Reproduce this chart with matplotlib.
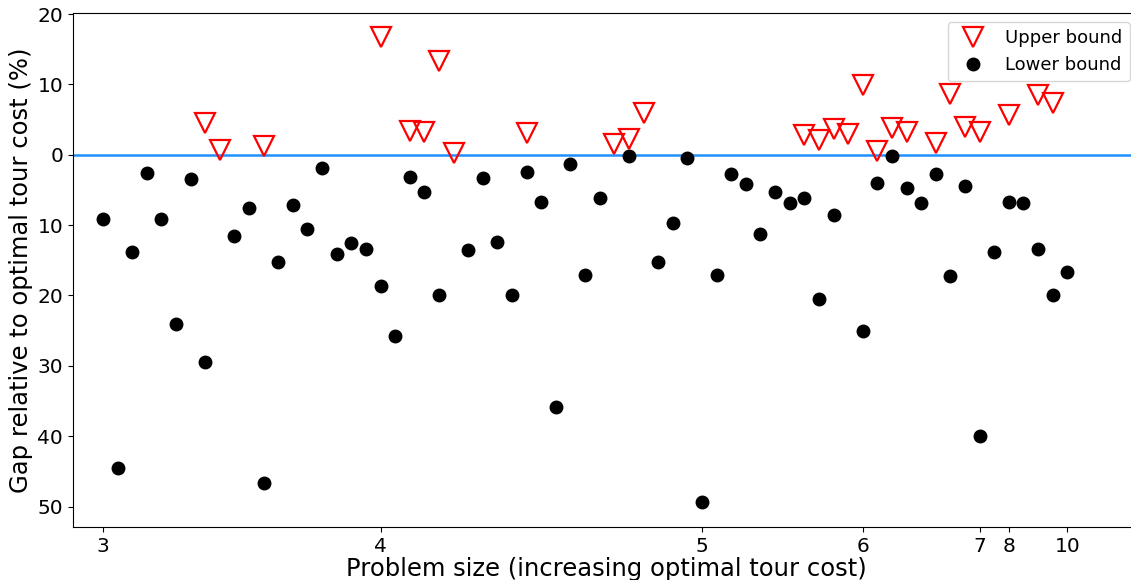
import numpy as np
import matplotlib
matplotlib.use("Agg")
import matplotlib.pyplot as plt

# =========================================================
# DATA (gap in %, instances sorted by optimal tour cost)
# =========================================================

nan = np.nan

lower_bound = [
    -9.1, -44.5, -13.8, -2.6, -9.1, -24.1, -3.5, -29.5, nan, -11.5,
    -7.5, -46.6, -15.2, -7.2, -10.5, -1.9, -14.1, -12.6, -13.4, -18.7,
    -25.7, -3.1, -5.35, -19.9, nan, -13.5, -3.3, -12.4, -19.9, -2.4,
    -6.7, -35.9, -1.3, -17.1, -6.1, nan, -0.2, nan, -15.3, -9.7,
    -0.5, -49.4, -17.1, -2.8, -4.1, -11.2, -5.35, -6.8, -6.2, -20.5,
    -8.6, nan, -25.0, -4.0, -0.2, -4.7, -6.9, -2.8, -17.3, -4.4,
    -40.0, -13.8, -6.7, -6.8, -13.4, -19.9, -16.7,
]

upper_bound = [
    nan, nan, nan, nan, nan, nan, nan, 4.5, 0.7, nan,
    nan, 1.2, nan, nan, nan, nan, nan, nan, nan, 16.8,
    nan, 3.4, 3.2, 13.3, 0.3, nan, nan, nan, nan, 3.15,
    nan, nan, nan, nan, nan, 1.5, 2.25, 6.0, nan, nan,
    nan, nan, nan, nan, nan, nan, nan, nan, 2.85, 2.1,
    3.7, 2.9, 9.9, 0.5, 3.8, 3.3, nan, 1.7, 8.7, 3.9,
    3.2, nan, 5.7, nan, 8.45, 7.4, nan,
]

# first instance of each problem size
size_ticks = [0, 19, 41, 52, 60, 62, 66]
size_labels = ["3", "4", "5", "6", "7", "8", "10"]

y_ticks = [-50, -40, -30, -20, -10, 0, 10, 20]

x = np.arange(len(lower_bound))

# =========================================================
# PLOT
# =========================================================

fig = plt.figure(figsize=(11.31, 5.8), dpi=100)
ax = fig.add_axes([0.0645, 0.0914, 0.9425, 0.8862])

ax.axhline(0, color="dodgerblue", linewidth=1.8, zorder=1)

ax.plot(x, upper_bound, linestyle="none", marker="v", markersize=14,
        markerfacecolor="none", markeredgecolor="red", markeredgewidth=1.6,
        label="Upper bound", zorder=3)
ax.plot(x, lower_bound, linestyle="none", marker="o", markersize=9,
        color="black", label="Lower bound", zorder=2)

ax.set_xlim(-2.05, 70.9)
ax.set_ylim(-52.9, 20.15)

ax.set_xticks(size_ticks)
ax.set_xticklabels(size_labels)
ax.set_yticks(y_ticks)
ax.set_yticklabels([str(abs(v)) for v in y_ticks])
ax.tick_params(labelsize=14.5)

ax.set_xlabel("Problem size (increasing optimal tour cost)", fontsize=17.5, labelpad=1)
ax.set_ylabel("Gap relative to optimal tour cost (%)", fontsize=17.5, labelpad=3)

ax.legend(loc="upper right", fontsize=13, numpoints=1)

plt.savefig("out.png", dpi=100)
plt.close()
print("Saved: out.png")
